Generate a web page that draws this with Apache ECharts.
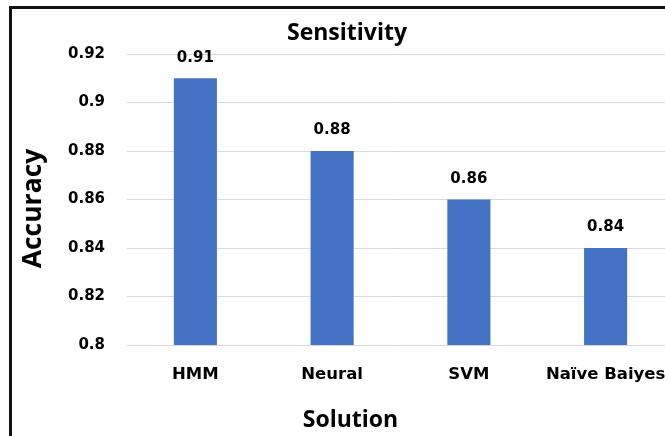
<!DOCTYPE html>
<html><head><meta charset="utf-8">
<script src="https://cdn.jsdelivr.net/npm/echarts@6/dist/echarts.min.js"></script>
<style>html,body{margin:0;padding:0;background:#fff}#c{width:665px;height:436px}</style>
</head><body><div id="c"></div>
<script>
const categories = ['HMM', 'Neural', 'SVM', 'Naïve Baiyes'];
const values = [0.91, 0.88, 0.86, 0.84];
const yTicks = { min: 0.8, max: 0.92, interval: 0.02 };
const FONT = '"Open Sans", "Noto Sans", sans-serif';
const NUMFONT = '"DejaVu Sans", sans-serif';
const chart = echarts.init(document.getElementById('c'));
chart.setOption({
  animation: false,
  backgroundColor: '#fff',
  title: { text: 'Sensitivity', left: 342, top: 17, textAlign: 'center',
    textStyle: { fontFamily: FONT, fontWeight: 'bold', fontSize: 23, color: '#000' } },
  graphic: [{ type: 'rect', shape: { x: 10.5, y: 7.5, width: 700, height: 500 },
    style: { fill: 'none', stroke: '#111', lineWidth: 3 }, z: 100 }],
  grid: { left: 127, top: 54, width: 547, bottom: 91, outerBoundsMode: 'none', containLabel: false },
  xAxis: { type: 'category', data: categories,
    axisLine: { show: false }, axisTick: { show: false },
    axisLabel: { interval: 0, hideOverlap: false, fontFamily: NUMFONT, fontWeight: 'bold', fontSize: 16.5, color: '#000', margin: 21 },
    name: 'Solution', nameLocation: 'middle', nameGap: 64,
    nameTextStyle: { fontFamily: FONT, fontWeight: 'bold', fontSize: 23, color: '#000', padding: [0, 100, 0, 0] } },
  yAxis: { type: 'value', min: yTicks.min, max: yTicks.max, interval: yTicks.interval,
    axisLine: { show: false }, axisTick: { show: false },
    splitLine: { lineStyle: { color: '#d9d9d9', width: 1 } },
    axisLabel: { fontFamily: NUMFONT, fontWeight: 'bold', fontSize: 15, color: '#000', margin: 22 },
    name: 'Accuracy', nameLocation: 'middle', nameGap: 80, nameRotate: 90,
    nameTextStyle: { fontFamily: FONT, fontWeight: 'bold', fontSize: 26.5, color: '#000', padding: [0, 18, 0, 0] } },
  series: [{ type: 'bar', data: values, barWidth: '31.5%',
    itemStyle: { color: '#4472c4' },
    label: { show: true, position: 'top', distance: 13, fontFamily: NUMFONT, fontWeight: 'bold', fontSize: 15, color: '#000' } }]
});
</script></body></html>
